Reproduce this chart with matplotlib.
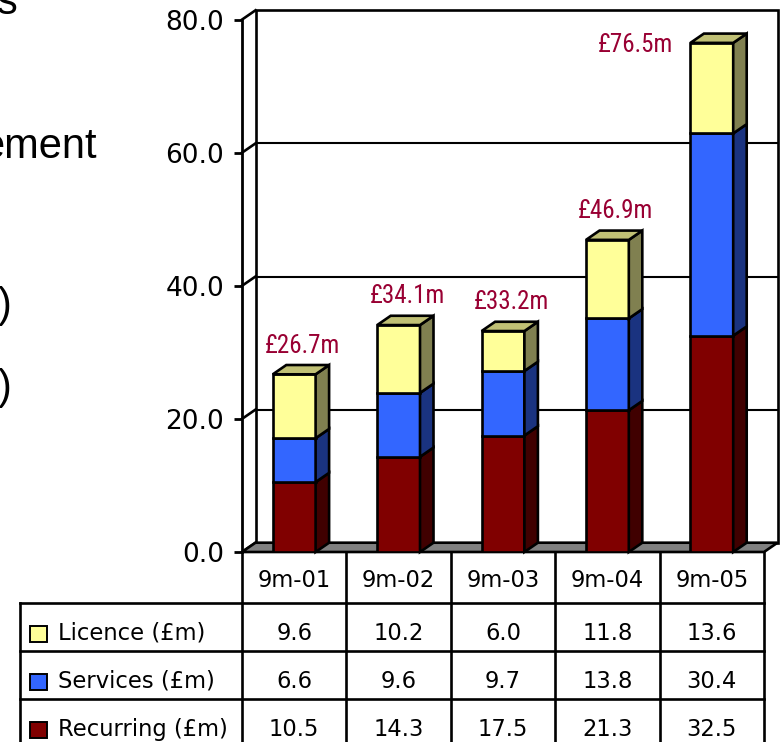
import numpy as np
import matplotlib.pyplot as plt
from matplotlib import font_manager as fm
from matplotlib.patches import Polygon, Rectangle

periods = ["9m-01", "9m-02", "9m-03", "9m-04", "9m-05"]
licence = [9.6, 10.2, 6.0, 11.8, 13.6]
services = [6.6, 9.6, 9.7, 13.8, 30.4]
recurring = [10.5, 14.3, 17.5, 21.3, 32.5]
series_names = ["Licence (£m)", "Services (£m)", "Recurring (£m)"]

# colours per series: front, side, top
face = {"lic": "#FFFF99", "srv": "#3366FF", "rec": "#800000"}
side = {"lic": "#808050", "srv": "#1A3380", "rec": "#400000"}
top = {"lic": "#C0C075", "srv": "#2650C0", "rec": "#600000"}
label_red = "#990033"

# narrow face for the total labels, if one is around
entries = fm.fontManager.ttflist
names = {f.name for f in entries}
narrow = {"family": "Roboto"}
if "Roboto Condensed" in names:
    narrow = {"family": "Roboto Condensed"}
elif "Liberation Sans Narrow" in names:
    narrow = {"family": "Liberation Sans Narrow"}
elif any(f.name == "DejaVu Sans" and "condensed" in str(f.stretch) for f in entries):
    narrow = {"family": "DejaVu Sans", "fontstretch": "condensed"}
elif any(f.name == "Roboto" and "condensed" in str(f.stretch) for f in entries):
    narrow = {"family": "Roboto", "fontstretch": "condensed"}

W, H = 781, 742
fig = plt.figure(figsize=(W / 100, H / 100), dpi=100)

# bits of slide text sitting to the left of the chart
def slide_text(s, x, y):
    fig.text(x / W, 1 - y / H, s, ha="right", va="baseline",
             fontsize=30, family="Liberation Sans")

slide_text("s", 18, 14)
slide_text("ement", 97, 158)
slide_text(")", 12, 317)
slide_text(")", 12, 399)

ax = fig.add_axes([242 / W, 1 - 552 / H, (764 - 242) / W, (552 - 19.6) / H])
ax.set_xlim(-0.5, 4.5)
ax.set_ylim(0, 80)
ax.patch.set_visible(False)
for s in ["top", "right", "bottom"]:
    ax.spines[s].set_visible(False)
ax.spines["left"].set_linewidth(2)
ax.set_xticks([])
ax.set_yticks(np.arange(0, 81, 20))
ax.set_yticklabels(["%.1f" % v for v in np.arange(0, 81, 20)])
ax.tick_params(axis="y", length=6, width=2, pad=7, labelsize=19)

# depth of the fake 3d look, in data units
DX = 13.5 / 104.4
DY = 9.3 / 6.655
lw = 1.9

# back wall, left wall and floor
ax.add_patch(Rectangle((-0.5 + DX, DY), 5, 80, fc="white", ec="black",
                       lw=lw, clip_on=False, zorder=0))
for v in [20, 40, 60]:
    ax.plot([-0.5 + DX, 4.5 + DX], [v + DY, v + DY], color="black",
            lw=1.5, clip_on=False, zorder=1)
for v in np.arange(0, 81, 20):
    ax.plot([-0.5, -0.5 + DX], [v, v + DY], color="black", lw=lw,
            clip_on=False, zorder=1)
ax.add_patch(Polygon([(-0.5, 0), (4.5, 0), (4.5 + DX, DY), (-0.5 + DX, DY)],
                     closed=True, fc="#808080", ec="black", lw=lw,
                     clip_on=False, zorder=1))

x = np.arange(len(periods))
w = 0.41
stack = [("rec", recurring), ("srv", services), ("lic", licence)]
bottom = np.zeros(len(periods))
for key, vals in stack:
    vals = np.array(vals)
    ax.bar(x, vals, w, bottom=bottom, color=face[key], edgecolor="black",
           lw=lw, zorder=3)
    for i in range(len(x)):
        r = x[i] + w / 2
        b, t = bottom[i], bottom[i] + vals[i]
        ax.add_patch(Polygon([(r, b), (r + DX, b + DY), (r + DX, t + DY), (r, t)],
                             closed=True, fc=side[key], ec="black", lw=lw,
                             zorder=3, clip_on=False))
    bottom = bottom + vals

# top faces on the licence segment
for i in range(len(x)):
    l, r, t = x[i] - w / 2, x[i] + w / 2, bottom[i]
    ax.add_patch(Polygon([(l, t), (r, t), (r + DX, t + DY), (l + DX, t + DY)],
                         closed=True, fc=top["lic"], ec="black", lw=lw,
                         zorder=3, clip_on=False))

totals = np.array(licence) + np.array(services) + np.array(recurring)
for i, tot in enumerate(totals):
    txt = "£%.1fm" % tot
    if i == len(totals) - 1:
        ax.text(x[i] - w / 2 - 0.17, tot - 0.3, txt, ha="right", va="center",
                color=label_red, fontsize=18, clip_on=False, **narrow)
    else:
        ax.text(x[i] + 0.08, tot + 4.3, txt, ha="center", va="center",
                color=label_red, fontsize=18, **narrow)

# data table under the chart
left = -0.5 - 222 / 104.4
tab = fig.add_axes([20 / W, 0, (764 - 20) / W, 190 / H])
tab.set_xlim(left, 4.5)
tab.set_ylim(190, 0)
tab.axis("off")

fs = 16.3
rows = [0, 51, 99, 147, 195]
for xv in np.arange(-0.5, 4.6, 1):
    tab.plot([xv, xv], [0, 195], color="black", lw=lw, clip_on=False)
tab.plot([left, left], [51, 195], color="black", lw=lw, clip_on=False)
for yv in rows[1:4]:
    tab.plot([left, 4.5], [yv, yv], color="black", lw=lw, clip_on=False)

for i, p in enumerate(periods):
    tab.text(x[i], 35, p, ha="center", va="baseline", fontsize=fs)

table_vals = [licence, services, recurring]
keys = ["lic", "srv", "rec"]
for r, (name, vals, key) in enumerate(zip(series_names, table_vals, keys)):
    y0 = rows[r + 1]
    tab.add_patch(Rectangle((left + 10 / 104.4, y0 + 23), 17 / 104.4, 16,
                            fc=face[key], ec="black", lw=1.4))
    tab.text(left + 38 / 104.4, y0 + 37, name, ha="left", va="baseline",
             fontsize=fs)
    for i, v in enumerate(vals):
        tab.text(x[i], y0 + 37, "%.1f" % v, ha="center", va="baseline",
                 fontsize=fs)

fig.savefig("out.png", dpi=100)
